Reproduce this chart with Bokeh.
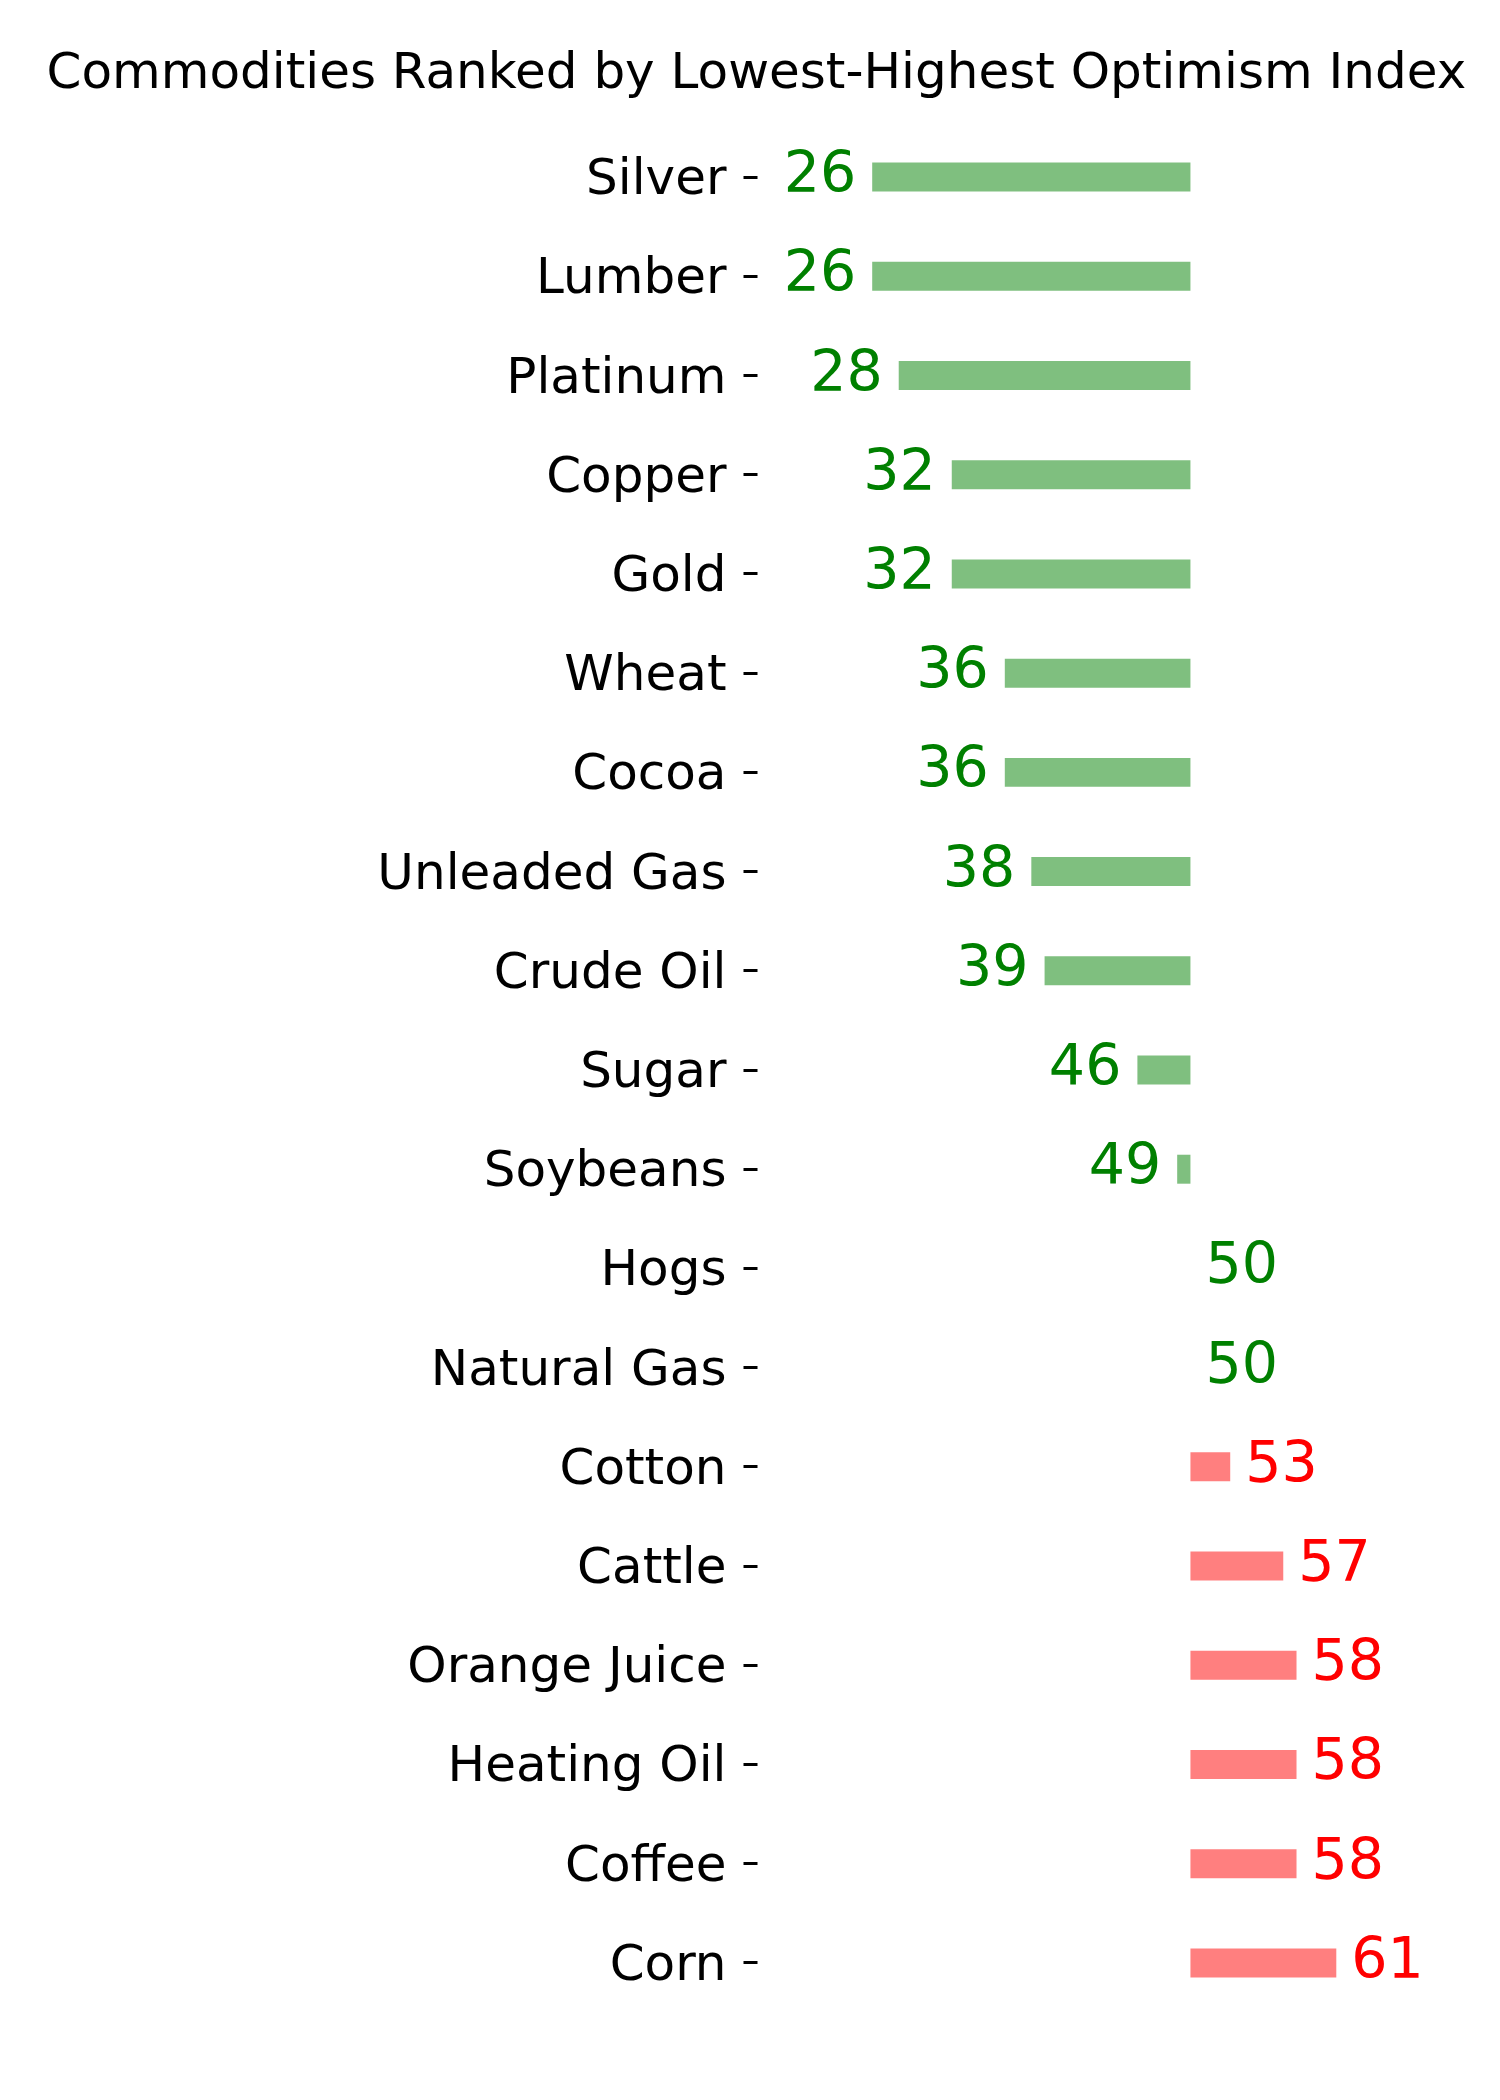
from bokeh.plotting import figure
from bokeh.models import Range1d, FactorRange, ColumnDataSource
from bokeh.embed import file_html
from bokeh.resources import INLINE
from bokeh.core.properties import value

names = ["Silver", "Lumber", "Platinum", "Copper", "Gold", "Wheat", "Cocoa",
         "Unleaded Gas", "Crude Oil", "Sugar", "Soybeans", "Hogs", "Natural Gas",
         "Cotton", "Cattle", "Orange Juice", "Heating Oil", "Coffee", "Corn"]
values = [26, 26, 28, 32, 32, 36, 36, 38, 39, 46, 49, 50, 50, 53, 57, 58, 58, 58, 61]
baseline_value = 50
title_text = "Commodities Ranked by Lowest-Highest Optimism Index"

FONT = "DejaVu Sans"
px_per_unit = 13.26
frame_w = 725
x0 = 17.35

colors = ["green" if v <= baseline_value else "red" for v in values]
left_names = [n for n, v in zip(names, values) if v < baseline_value]
left_vals = [v for v in values if v < baseline_value]
right_names = [n for n, v in zip(names, values) if v >= baseline_value]
right_vals = [v for v in values if v >= baseline_value]

src = ColumnDataSource(dict(
    name=names, val=values, base=[baseline_value] * len(values), color=colors))
src_l = ColumnDataSource(dict(name=left_names, val=left_vals,
                              label=[str(v) for v in left_vals],
                              color=["green" if v <= baseline_value else "red" for v in left_vals]))
src_r = ColumnDataSource(dict(name=right_names, val=right_vals,
                              label=[str(v) for v in right_vals],
                              color=["green" if v <= baseline_value else "red" for v in right_vals]))

p = figure(
    frame_width=frame_w, frame_height=1885,
    min_border_left=757, min_border_right=10, min_border_top=127, min_border_bottom=40,
    x_range=Range1d(x0, x0 + frame_w / px_per_unit),
    y_range=FactorRange(factors=names[::-1], range_padding=0),
    output_backend="svg", toolbar_location=None,
)
p.outline_line_color = None
p.grid.visible = False
p.xaxis.visible = False
p.background_fill_color = "white"
p.border_fill_color = "white"

p.hbar(y="name", left="base", right="val", height=0.292, source=src,
       fill_color="color", fill_alpha=0.5, line_color=None)

p.text(x="val", y="name", text="label", source=src_l, text_color="color",
       text_font=value(FONT), text_font_size="57px", text_align="right",
       text_baseline="alphabetic", x_offset=-16, y_offset=-6)
p.text(x="val", y="name", text="label", source=src_r, text_color="color",
       text_font=value(FONT), text_font_size="57px", text_align="left",
       text_baseline="alphabetic", x_offset=15, y_offset=-6)

ax = p.yaxis[0]
ax.axis_line_color = None
ax.major_tick_in = 0
ax.major_tick_out = 14
ax.major_tick_line_width = 3
ax.major_tick_line_color = "black"
ax.minor_tick_line_color = None
ax.major_label_standoff = 17
ax.major_label_text_font = FONT
ax.major_label_text_font_size = "50px"
ax.major_label_text_color = "black"

p.title.text = title_text
p.title.text_font = FONT
p.title.text_font_size = "50px"
p.title.text_font_style = "normal"
p.title.text_color = "black"
p.title.align = "left"
p.title.offset = -711
p.title.standoff = 56

open("out.html", "w").write(file_html(p, INLINE))
